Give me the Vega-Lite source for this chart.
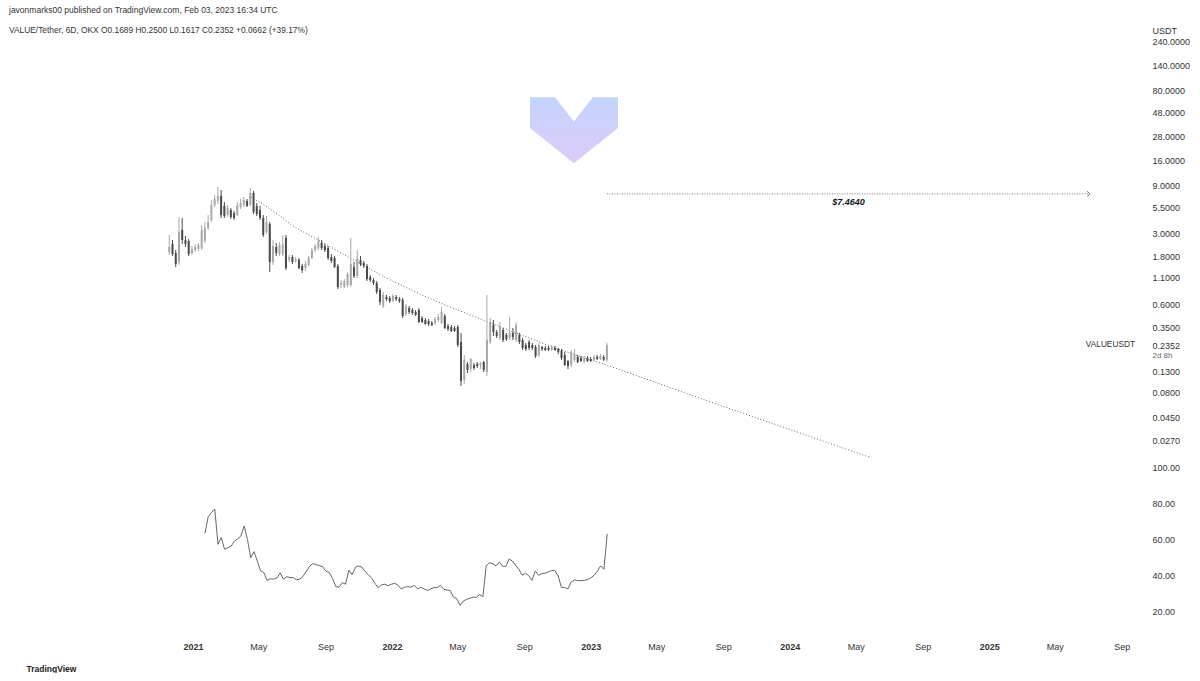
{
"$schema": "https://vega.github.io/schema/vega-lite/v6.json",
"background": "white",
"padding": {"left": 0, "top": 6, "right": 0, "bottom": 0},
"spacing": 0,
"config": {"view": {"stroke": null}, "font": "Liberation Sans", "axis": {"grid": false, "domain": false, "ticks": false, "labelFont": "Liberation Sans", "labelFontSize": 9, "labelColor": "#333"}},
"title": {"text": "javonmarks00 published on TradingView.com, Feb 03, 2023 16:34 UTC", "subtitle": "VALUE/Tether, 6D, OKX  O0.1689  H0.2500  L0.1617  C0.2352  +0.0662 (+39.17%)", "anchor": "start", "dx": 9, "fontSize": 8.5, "fontWeight": "normal", "color": "#333", "subtitleFontSize": 8.4, "subtitleColor": "#333", "subtitlePadding": 11, "offset": -8, "font": "Liberation Sans", "subtitleFont": "Liberation Sans"},
"datasets": {
"candles": [
{"d":"2020-11-12","o":1.980,"h":2.919,"l":1.849,"c":2.219},
{"d":"2020-11-18","o":2.377,"h":2.604,"l":1.807,"c":1.891},
{"d":"2020-11-24","o":1.935,"h":2.072,"l":1.405,"c":1.505},
{"d":"2020-11-30","o":1.575,"h":4.404,"l":1.471,"c":3.126},
{"d":"2020-12-06","o":3.272,"h":4.305,"l":2.377,"c":2.604},
{"d":"2020-12-12","o":2.604,"h":2.853,"l":2.219,"c":2.377},
{"d":"2020-12-18","o":2.545,"h":2.664,"l":1.807,"c":1.891},
{"d":"2020-12-24","o":1.935,"h":2.271,"l":1.849,"c":2.120},
{"d":"2020-12-30","o":2.072,"h":2.377,"l":1.980,"c":2.219},
{"d":"2021-01-05","o":2.120,"h":2.432,"l":2.025,"c":2.323},
{"d":"2021-01-11","o":2.169,"h":3.668,"l":2.072,"c":3.272},
{"d":"2021-01-17","o":2.545,"h":3.929,"l":2.432,"c":3.425},
{"d":"2021-01-23","o":3.425,"h":4.610,"l":3.272,"c":3.929,"rsi":63.7},
{"d":"2021-01-29","o":4.112,"h":6.494,"l":3.929,"c":5.793,"rsi":73.0},
{"d":"2021-02-04","o":5.793,"h":7.280,"l":5.535,"c":6.644,"rsi":75.2},
{"d":"2021-02-10","o":6.347,"h":8.742,"l":5.927,"c":7.115,"rsi":77.2},
{"d":"2021-02-16","o":7.115,"h":8.162,"l":4.305,"c":4.610,"rsi":57.6},
{"d":"2021-02-22","o":5.662,"h":6.204,"l":4.305,"c":4.506,"rsi":61.3},
{"d":"2021-02-28","o":4.610,"h":5.793,"l":4.404,"c":5.410,"rsi":54.8},
{"d":"2021-03-06","o":5.168,"h":5.410,"l":4.207,"c":4.404,"rsi":55.7},
{"d":"2021-03-12","o":4.826,"h":5.051,"l":4.112,"c":4.305,"rsi":56.5},
{"d":"2021-03-18","o":4.610,"h":6.204,"l":4.506,"c":5.793,"rsi":59.3},
{"d":"2021-03-24","o":5.535,"h":6.644,"l":5.287,"c":6.064,"rsi":60.6},
{"d":"2021-03-30","o":5.793,"h":6.955,"l":5.535,"c":6.494,"rsi":62.2},
{"d":"2021-04-05","o":6.347,"h":6.644,"l":5.535,"c":5.662,"rsi":67.8},
{"d":"2021-04-11","o":5.793,"h":8.544,"l":5.662,"c":7.621,"rsi":60.2},
{"d":"2021-04-17","o":7.621,"h":7.977,"l":4.717,"c":4.937,"rsi":50.2},
{"d":"2021-04-23","o":5.662,"h":6.064,"l":4.506,"c":4.717,"rsi":53.5},
{"d":"2021-04-29","o":5.168,"h":5.662,"l":4.112,"c":4.305,"rsi":48.3},
{"d":"2021-05-05","o":4.305,"h":4.610,"l":2.789,"c":2.919,"rsi":42.8},
{"d":"2021-05-11","o":3.126,"h":4.506,"l":2.986,"c":3.929,"rsi":41.9},
{"d":"2021-05-17","o":3.753,"h":3.929,"l":1.253,"c":1.575,"rsi":37.6},
{"d":"2021-05-23","o":1.575,"h":2.604,"l":1.471,"c":2.271,"rsi":38.4},
{"d":"2021-05-29","o":2.219,"h":2.432,"l":1.807,"c":1.935,"rsi":38.2},
{"d":"2021-06-04","o":1.891,"h":2.488,"l":1.807,"c":2.323,"rsi":38.9},
{"d":"2021-06-10","o":1.891,"h":2.919,"l":1.807,"c":2.377,"rsi":41.7},
{"d":"2021-06-16","o":2.726,"h":2.919,"l":1.312,"c":1.373,"rsi":38.2},
{"d":"2021-06-22","o":1.649,"h":1.849,"l":1.575,"c":1.766,"rsi":39.6},
{"d":"2021-06-28","o":1.766,"h":1.849,"l":1.505,"c":1.575,"rsi":39.1},
{"d":"2021-07-04","o":1.612,"h":1.766,"l":1.540,"c":1.687,"rsi":39.1},
{"d":"2021-07-10","o":1.649,"h":1.726,"l":1.342,"c":1.373,"rsi":37.8},
{"d":"2021-07-16","o":1.438,"h":1.505,"l":1.225,"c":1.312,"rsi":38.2},
{"d":"2021-07-22","o":1.373,"h":1.612,"l":1.282,"c":1.505,"rsi":39.8},
{"d":"2021-07-28","o":1.471,"h":1.807,"l":1.438,"c":1.726,"rsi":42.6},
{"d":"2021-08-03","o":1.726,"h":2.169,"l":1.687,"c":2.072,"rsi":45.4},
{"d":"2021-08-09","o":2.072,"h":2.377,"l":1.980,"c":2.271,"rsi":46.9},
{"d":"2021-08-15","o":2.169,"h":2.789,"l":2.072,"c":2.545,"rsi":46.3},
{"d":"2021-08-21","o":2.432,"h":2.604,"l":2.072,"c":2.169,"rsi":45.7},
{"d":"2021-08-27","o":2.271,"h":2.377,"l":1.980,"c":2.072,"rsi":45.2},
{"d":"2021-09-02","o":2.169,"h":2.271,"l":1.649,"c":1.726,"rsi":42.6},
{"d":"2021-09-08","o":1.766,"h":1.891,"l":1.540,"c":1.612,"rsi":41.9},
{"d":"2021-09-14","o":1.726,"h":1.807,"l":1.373,"c":1.405,"rsi":38.7},
{"d":"2021-09-20","o":1.438,"h":1.505,"l":0.8503,"c":0.8901,"rsi":34.1},
{"d":"2021-09-26","o":0.9317,"h":1.044,"l":0.8700,"c":0.9751,"rsi":33.7},
{"d":"2021-10-02","o":0.8901,"h":1.068,"l":0.8700,"c":1.020,"rsi":36.3},
{"d":"2021-10-08","o":0.9317,"h":1.253,"l":0.8901,"c":1.197,"rsi":35.4},
{"d":"2021-10-14","o":0.9317,"h":2.726,"l":0.8901,"c":1.505,"rsi":43.3},
{"d":"2021-10-20","o":1.405,"h":1.575,"l":1.093,"c":1.144,"rsi":40.7},
{"d":"2021-10-26","o":1.144,"h":2.072,"l":1.093,"c":1.726,"rsi":44.8},
{"d":"2021-11-01","o":1.649,"h":1.807,"l":1.438,"c":1.505,"rsi":45.6},
{"d":"2021-11-07","o":1.540,"h":1.612,"l":1.373,"c":1.438,"rsi":44.8},
{"d":"2021-11-13","o":1.438,"h":1.505,"l":1.020,"c":1.068,"rsi":42.4},
{"d":"2021-11-19","o":1.118,"h":1.171,"l":0.9976,"c":1.044,"rsi":40.6},
{"d":"2021-11-25","o":1.044,"h":1.093,"l":0.9317,"c":0.9751,"rsi":38.7},
{"d":"2021-12-01","o":0.9751,"h":1.020,"l":0.7585,"c":0.7940,"rsi":35.9},
{"d":"2021-12-07","o":0.8311,"h":0.8700,"l":0.5900,"c":0.6318,"rsi":33.3},
{"d":"2021-12-13","o":0.5767,"h":0.7940,"l":0.5509,"c":0.7414,"rsi":35.0},
{"d":"2021-12-19","o":0.7083,"h":0.7414,"l":0.6464,"c":0.6766,"rsi":35.4},
{"d":"2021-12-25","o":0.6923,"h":0.7246,"l":0.6176,"c":0.6464,"rsi":34.6},
{"d":"2021-12-31","o":0.6464,"h":0.7585,"l":0.6318,"c":0.7246,"rsi":35.4},
{"d":"2022-01-06","o":0.7083,"h":0.7414,"l":0.6464,"c":0.6766,"rsi":35.9},
{"d":"2022-01-12","o":0.6766,"h":0.7083,"l":0.6176,"c":0.6464,"rsi":35.0},
{"d":"2022-01-18","o":0.6614,"h":0.6923,"l":0.4384,"c":0.4589,"rsi":32.8},
{"d":"2022-01-24","o":0.4803,"h":0.6036,"l":0.4589,"c":0.5767,"rsi":33.7},
{"d":"2022-01-30","o":0.5509,"h":0.5767,"l":0.4803,"c":0.5028,"rsi":34.1},
{"d":"2022-02-05","o":0.5263,"h":0.5509,"l":0.4695,"c":0.4915,"rsi":33.7},
{"d":"2022-02-11","o":0.5028,"h":0.5263,"l":0.4589,"c":0.4695,"rsi":34.8},
{"d":"2022-02-17","o":0.5263,"h":0.5509,"l":0.3911,"c":0.4001,"rsi":32.8},
{"d":"2022-02-23","o":0.4384,"h":0.4589,"l":0.3911,"c":0.4001,"rsi":33.7},
{"d":"2022-03-01","o":0.4188,"h":0.4384,"l":0.3736,"c":0.3822,"rsi":32.8},
{"d":"2022-03-07","o":0.4093,"h":0.4285,"l":0.3652,"c":0.3822,"rsi":32.0},
{"d":"2022-03-13","o":0.3911,"h":0.4093,"l":0.3652,"c":0.3736,"rsi":32.8},
{"d":"2022-03-19","o":0.3911,"h":0.4485,"l":0.3736,"c":0.4285,"rsi":33.5},
{"d":"2022-03-25","o":0.4188,"h":0.4803,"l":0.4001,"c":0.4485,"rsi":33.5},
{"d":"2022-03-31","o":0.3911,"h":0.5636,"l":0.3822,"c":0.5028,"rsi":34.8},
{"d":"2022-04-06","o":0.4589,"h":0.4803,"l":0.3410,"c":0.3489,"rsi":32.6},
{"d":"2022-04-12","o":0.3652,"h":0.3822,"l":0.3258,"c":0.3410,"rsi":32.2},
{"d":"2022-04-18","o":0.3569,"h":0.3736,"l":0.3184,"c":0.3258,"rsi":31.9},
{"d":"2022-04-24","o":0.3489,"h":0.3652,"l":0.3184,"c":0.3258,"rsi":28.2},
{"d":"2022-04-30","o":0.3569,"h":0.3736,"l":0.2260,"c":0.2366,"rsi":27.4},
{"d":"2022-05-06","o":0.2534,"h":0.3112,"l":0.0927,"c":0.1040,"rsi":23.7},
{"d":"2022-05-12","o":0.1064,"h":0.1883,"l":0.0971,"c":0.1680,"rsi":26.1},
{"d":"2022-05-18","o":0.1533,"h":0.1605,"l":0.1248,"c":0.1337,"rsi":27.0},
{"d":"2022-05-24","o":0.1367,"h":0.1758,"l":0.1277,"c":0.1718,"rsi":27.6},
{"d":"2022-05-30","o":0.1498,"h":0.1568,"l":0.1337,"c":0.1399,"rsi":28.2},
{"d":"2022-06-05","o":0.1533,"h":0.1605,"l":0.1399,"c":0.1464,"rsi":28.2},
{"d":"2022-06-11","o":0.1498,"h":0.1605,"l":0.1367,"c":0.1568,"rsi":29.6},
{"d":"2022-06-17","o":0.1605,"h":0.1642,"l":0.1277,"c":0.1337,"rsi":28.5},
{"d":"2022-06-23","o":0.1277,"h":0.7414,"l":0.1165,"c":0.2652,"rsi":45.6},
{"d":"2022-06-29","o":0.2534,"h":0.4384,"l":0.2420,"c":0.4001,"rsi":47.4},
{"d":"2022-07-05","o":0.3736,"h":0.4188,"l":0.2906,"c":0.3184,"rsi":46.7},
{"d":"2022-07-11","o":0.3184,"h":0.3333,"l":0.2776,"c":0.2906,"rsi":45.6},
{"d":"2022-07-17","o":0.2776,"h":0.4001,"l":0.2652,"c":0.3652,"rsi":47.8},
{"d":"2022-07-23","o":0.3333,"h":0.3489,"l":0.2534,"c":0.2652,"rsi":45.4},
{"d":"2022-07-29","o":0.2973,"h":0.3112,"l":0.2592,"c":0.2713,"rsi":45.2},
{"d":"2022-08-04","o":0.2776,"h":0.4485,"l":0.2652,"c":0.3112,"rsi":49.4},
{"d":"2022-08-10","o":0.3112,"h":0.3489,"l":0.2652,"c":0.2840,"rsi":48.3},
{"d":"2022-08-16","o":0.2652,"h":0.4001,"l":0.2534,"c":0.3736,"rsi":45.9},
{"d":"2022-08-22","o":0.2973,"h":0.3112,"l":0.2420,"c":0.2534,"rsi":43.7},
{"d":"2022-08-28","o":0.2652,"h":0.2776,"l":0.2111,"c":0.2209,"rsi":40.4},
{"d":"2022-09-03","o":0.2366,"h":0.2476,"l":0.2063,"c":0.2159,"rsi":41.5},
{"d":"2022-09-09","o":0.2534,"h":0.2652,"l":0.2111,"c":0.2209,"rsi":40.2},
{"d":"2022-09-15","o":0.2366,"h":0.2476,"l":0.2111,"c":0.2209,"rsi":37.6},
{"d":"2022-09-21","o":0.2260,"h":0.2366,"l":0.1758,"c":0.1840,"rsi":42.8},
{"d":"2022-09-27","o":0.1883,"h":0.2476,"l":0.1799,"c":0.2366,"rsi":40.4},
{"d":"2022-10-03","o":0.2260,"h":0.2312,"l":0.2063,"c":0.2159,"rsi":41.3},
{"d":"2022-10-09","o":0.2209,"h":0.2312,"l":0.2063,"c":0.2111,"rsi":41.5},
{"d":"2022-10-15","o":0.2209,"h":0.2312,"l":0.2063,"c":0.2111,"rsi":42.2},
{"d":"2022-10-21","o":0.2111,"h":0.2366,"l":0.2063,"c":0.2260,"rsi":43.0},
{"d":"2022-10-27","o":0.2209,"h":0.2312,"l":0.2063,"c":0.2111,"rsi":43.0},
{"d":"2022-11-02","o":0.2159,"h":0.2209,"l":0.1926,"c":0.2016,"rsi":40.0},
{"d":"2022-11-08","o":0.2063,"h":0.2159,"l":0.1680,"c":0.1758,"rsi":33.7},
{"d":"2022-11-14","o":0.1883,"h":0.2016,"l":0.1464,"c":0.1498,"rsi":33.5},
{"d":"2022-11-20","o":0.1642,"h":0.1680,"l":0.1367,"c":0.1464,"rsi":32.8},
{"d":"2022-11-26","o":0.1498,"h":0.2111,"l":0.1431,"c":0.2016,"rsi":36.7},
{"d":"2022-12-02","o":0.1680,"h":0.2159,"l":0.1605,"c":0.1926,"rsi":37.8},
{"d":"2022-12-08","o":0.1799,"h":0.1883,"l":0.1568,"c":0.1605,"rsi":37.4},
{"d":"2022-12-14","o":0.1758,"h":0.1840,"l":0.1605,"c":0.1642,"rsi":37.4},
{"d":"2022-12-20","o":0.1605,"h":0.1840,"l":0.1568,"c":0.1758,"rsi":37.6},
{"d":"2022-12-26","o":0.1758,"h":0.1840,"l":0.1605,"c":0.1642,"rsi":38.0},
{"d":"2023-01-01","o":0.1718,"h":0.1799,"l":0.1605,"c":0.1642,"rsi":38.9},
{"d":"2023-01-07","o":0.1680,"h":0.1883,"l":0.1642,"c":0.1799,"rsi":40.4},
{"d":"2023-01-13","o":0.1799,"h":0.1883,"l":0.1680,"c":0.1718,"rsi":42.6},
{"d":"2023-01-19","o":0.1718,"h":0.1926,"l":0.1680,"c":0.1840,"rsi":45.6},
{"d":"2023-01-25","o":0.1799,"h":0.1883,"l":0.1642,"c":0.1689,"rsi":43.7},
{"d":"2023-01-31","o":0.1689,"h":0.2500,"l":0.1617,"c":0.2352,"rsi":63.3}
],
"trend": [
{"d":"2021-04-12","p":6.955},{"d":"2021-05-31","p":4.717},{"d":"2021-06-24","p":3.753},{"d":"2021-08-15","p":2.604},{"d":"2021-10-16","p":1.687},{"d":"2021-12-19","p":1.093},{"d":"2022-03-25","p":0.6318},{"d":"2022-06-30","p":0.3911},{"d":"2022-10-18","p":0.2312},{"d":"2023-02-15","p":0.1399},{"d":"2023-07-21","p":0.0705},{"d":"2024-01-02","p":0.0347},{"d":"2024-05-30","p":0.0183}
],
"level": [{"d":"2023-01-31","p":7.464},{"d":"2025-07-13","p":7.464}],
"arrow": [{"d":"2025-07-13","p":7.464}],
"labels": [{"d":"2024-04-22","p":7.464,"t":"$7.4640"}],
"symbol": [{"d":"2025-10-10","p":0.2352,"t":"VALUEUSDT"}],
"logo": [{"d":"2022-12-01","p":32}]
},
"vconcat": [
{
"width": 1143,
"height": 422,
"encoding": {
"x": {"field": "d", "type": "temporal", "scale": {"type": "utc", "domain": [{"year": 2020, "month": 1, "date": 13, "utc": true}, {"year": 2025, "month": 10, "date": 10, "utc": true}]}, "axis": null},
"y": {"type": "quantitative", "scale": {"type": "log", "domain": [0.0171, 262.8], "nice": false, "zero": false}, "axis": {"orient": "right", "title": "USDT", "titleAngle": 0, "titleAlign": "left", "titleBaseline": "middle", "titleX": 9, "titleY": -8, "titleFontSize": 9, "titleFontWeight": "normal", "titleColor": "#333", "titleFont": "Liberation Sans", "values": [240, 140, 80, 48, 28, 16, 9, 5.5, 3, 1.8, 1.1, 0.6, 0.35, 0.2352, 0.184, 0.13, 0.08, 0.045, 0.027], "labelExpr": "datum.value == 0.184 ? '2d 8h' : format(datum.value, '.4f')", "labelFontSize": {"condition": {"test": "datum.value == 0.184", "value": 8}, "value": 9}, "labelColor": {"condition": {"test": "datum.value == 0.184", "value": "#666"}, "value": "#333"}, "labelPadding": 9, "labelOverlap": false, "labelBound": false, "labelFlush": false}}
},
"layer": [
{"data": {"name": "logo"}, "mark": {"type": "point", "shape": "M-1,-0.75L-0.43,-0.75L0,-0.2L0.43,-0.75L1,-0.75L1,-0.05L0,0.75L-1,-0.05Z", "size": 7744, "filled": true, "opacity": 1, "strokeWidth": 0, "fill": {"gradient": "linear", "x1": 0, "y1": 0, "x2": 0, "y2": 1, "stops": [{"offset": 0, "color": "#c3d5fd"}, {"offset": 1, "color": "#ddcbf8"}]}}, "encoding": {"y": {"field": "p"}}},
{"data": {"name": "trend"}, "mark": {"type": "line", "color": "#666", "strokeWidth": 1, "strokeDash": [1, 2], "interpolate": "monotone"}, "encoding": {"y": {"field": "p"}}},
{"data": {"name": "level"}, "mark": {"type": "line", "color": "#777", "strokeWidth": 1, "strokeDash": [1, 1.5]}, "encoding": {"y": {"field": "p"}}},
{"data": {"name": "arrow"}, "mark": {"type": "point", "shape": "M-1,-1L0,0L-1,1", "filled": false, "stroke": "#777", "strokeWidth": 1, "size": 30, "opacity": 1}, "encoding": {"y": {"field": "p"}}},
{"data": {"name": "labels"}, "mark": {"type": "text", "fontStyle": "italic", "fontWeight": "bold", "fontSize": 9, "dy": 8, "color": "#131722", "font": "Liberation Sans"}, "encoding": {"y": {"field": "p"}, "text": {"field": "t"}}},
{"data": {"name": "symbol"}, "mark": {"type": "text", "align": "right", "dx": -3, "fontSize": 8.3, "color": "#333", "font": "Liberation Sans"}, "encoding": {"y": {"field": "p"}, "text": {"field": "t"}}},
{"data": {"name": "candles"}, "mark": {"type": "rule", "strokeWidth": 1}, "encoding": {"y": {"field": "l"}, "y2": {"field": "h"}, "color": {"condition": {"test": "datum.c >= datum.o", "value": "#a8a8a8"}, "value": "#4a4a4a"}}},
{"data": {"name": "candles"}, "mark": {"type": "bar", "width": 2}, "encoding": {"y": {"field": "o"}, "y2": {"field": "c"}, "color": {"condition": {"test": "datum.c >= datum.o", "value": "#a8a8a8"}, "value": "#4a4a4a"}}}
]
},
{
"width": 1143,
"height": 175,
"data": {"name": "candles"},
"mark": {"type": "line", "color": "#666", "strokeWidth": 1},
"encoding": {
"x": {"field": "d", "type": "temporal", "scale": {"type": "utc", "domain": [{"year": 2020, "month": 1, "date": 13, "utc": true}, {"year": 2025, "month": 10, "date": 10, "utc": true}]}, "axis": {"values": [{"year": 2021, "month": 1, "date": 1, "utc": true}, {"year": 2021, "month": 5, "date": 1, "utc": true}, {"year": 2021, "month": 9, "date": 1, "utc": true}, {"year": 2022, "month": 1, "date": 1, "utc": true}, {"year": 2022, "month": 5, "date": 1, "utc": true}, {"year": 2022, "month": 9, "date": 1, "utc": true}, {"year": 2023, "month": 1, "date": 1, "utc": true}, {"year": 2023, "month": 5, "date": 1, "utc": true}, {"year": 2023, "month": 9, "date": 1, "utc": true}, {"year": 2024, "month": 1, "date": 1, "utc": true}, {"year": 2024, "month": 5, "date": 1, "utc": true}, {"year": 2024, "month": 9, "date": 1, "utc": true}, {"year": 2025, "month": 1, "date": 1, "utc": true}, {"year": 2025, "month": 5, "date": 1, "utc": true}, {"year": 2025, "month": 9, "date": 1, "utc": true}], "labelExpr": "utcFormat(datum.value, '%m') == '01' ? utcFormat(datum.value, '%Y') : utcFormat(datum.value, '%b')", "labelFontWeight": {"condition": {"test": "utcFormat(datum.value, '%m') == '01'", "value": "bold"}, "value": "normal"}, "labelPadding": 7, "labelOverlap": false, "title": "TradingView", "titleX": 26, "titleY": 33, "titleAlign": "left", "titleBaseline": "middle", "titleFontSize": 8.5, "titleFontWeight": "bold", "titleColor": "#222", "titleFont": "Liberation Sans"}},
"y": {"field": "rsi", "type": "quantitative", "scale": {"domain": [7.2, 104.4], "nice": false, "zero": false}, "axis": {"orient": "right", "values": [20, 40, 60, 80, 100], "format": ".2f", "title": null, "labelPadding": 9}}
}
}
]
}
